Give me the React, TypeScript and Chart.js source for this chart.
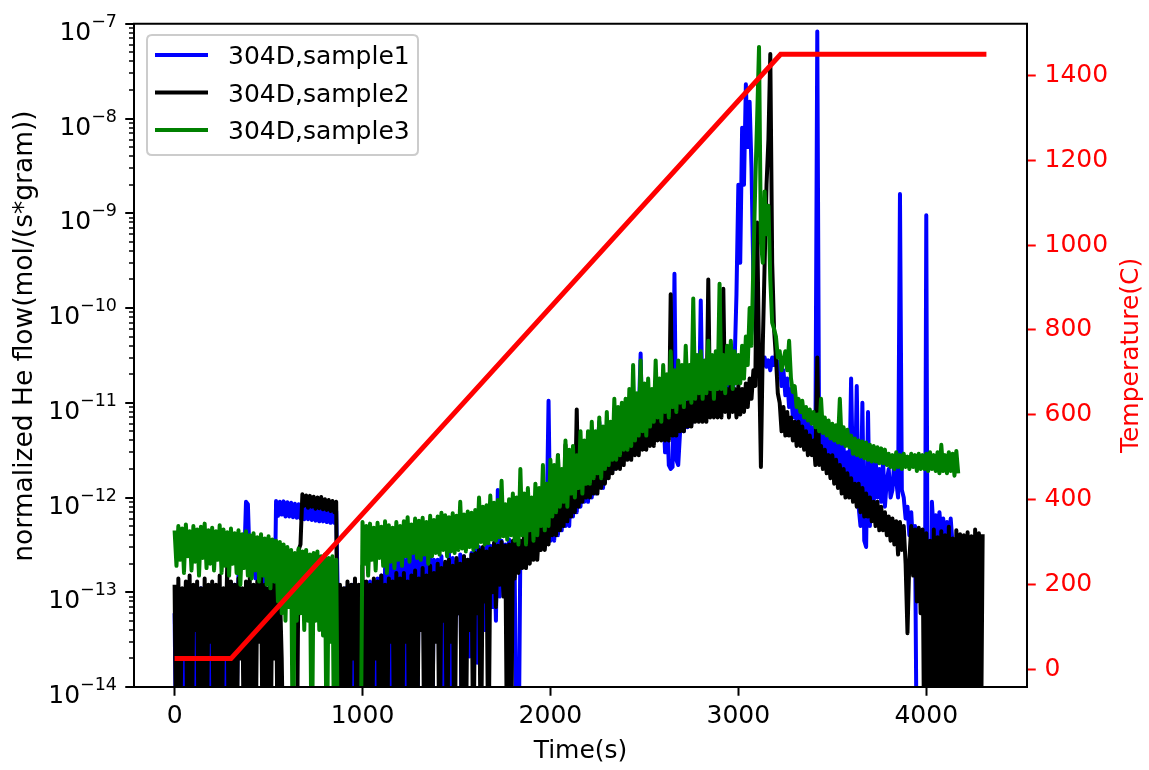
import React, { useEffect, useRef } from 'react';
import { Chart, registerables } from 'chart.js';

Chart.register(...registerables);

const FONT = '"DejaVu Sans", sans-serif';

// Time axis (s), one sample every 10 s
const timeSec = [
  0, 10, 20, 30, 40, 50, 60, 70, 80, 90, 100, 110, 120, 130, 140, 150, 160, 170, 180, 190,
  200, 210, 220, 230, 240, 250, 260, 270, 280, 290, 300, 310, 320, 330, 340, 350, 360, 370, 380, 390,
  400, 410, 420, 430, 440, 450, 460, 470, 480, 490, 500, 510, 520, 530, 540, 550, 560, 570, 580, 590,
  600, 610, 620, 630, 640, 650, 660, 670, 680, 690, 700, 710, 720, 730, 740, 750, 760, 770, 780, 790,
  800, 810, 820, 830, 840, 850, 860, 870, 880, 890, 900, 910, 920, 930, 940, 950, 960, 970, 980, 990,
  1000, 1010, 1020, 1030, 1040, 1050, 1060, 1070, 1080, 1090, 1100, 1110, 1120, 1130, 1140, 1150, 1160, 1170, 1180, 1190,
  1200, 1210, 1220, 1230, 1240, 1250, 1260, 1270, 1280, 1290, 1300, 1310, 1320, 1330, 1340, 1350, 1360, 1370, 1380, 1390,
  1400, 1410, 1420, 1430, 1440, 1450, 1460, 1470, 1480, 1490, 1500, 1510, 1520, 1530, 1540, 1550, 1560, 1570, 1580, 1590,
  1600, 1610, 1620, 1630, 1640, 1650, 1660, 1670, 1680, 1690, 1700, 1710, 1720, 1730, 1740, 1750, 1760, 1770, 1780, 1790,
  1800, 1810, 1820, 1830, 1840, 1850, 1860, 1870, 1880, 1890, 1900, 1910, 1920, 1930, 1940, 1950, 1960, 1970, 1980, 1990,
  2000, 2010, 2020, 2030, 2040, 2050, 2060, 2070, 2080, 2090, 2100, 2110, 2120, 2130, 2140, 2150, 2160, 2170, 2180, 2190,
  2200, 2210, 2220, 2230, 2240, 2250, 2260, 2270, 2280, 2290, 2300, 2310, 2320, 2330, 2340, 2350, 2360, 2370, 2380, 2390,
  2400, 2410, 2420, 2430, 2440, 2450, 2460, 2470, 2480, 2490, 2500, 2510, 2520, 2530, 2540, 2550, 2560, 2570, 2580, 2590,
  2600, 2610, 2620, 2630, 2640, 2650, 2660, 2670, 2680, 2690, 2700, 2710, 2720, 2730, 2740, 2750, 2760, 2770, 2780, 2790,
  2800, 2810, 2820, 2830, 2840, 2850, 2860, 2870, 2880, 2890, 2900, 2910, 2920, 2930, 2940, 2950, 2960, 2970, 2980, 2990,
  3000, 3010, 3020, 3030, 3040, 3050, 3060, 3070, 3080, 3090, 3100, 3110, 3120, 3130, 3140, 3150, 3160, 3170, 3180, 3190,
  3200, 3210, 3220, 3230, 3240, 3250, 3260, 3270, 3280, 3290, 3300, 3310, 3320, 3330, 3340, 3350, 3360, 3370, 3380, 3390,
  3400, 3410, 3420, 3430, 3440, 3450, 3460, 3470, 3480, 3490, 3500, 3510, 3520, 3530, 3540, 3550, 3560, 3570, 3580, 3590,
  3600, 3610, 3620, 3630, 3640, 3650, 3660, 3670, 3680, 3690, 3700, 3710, 3720, 3730, 3740, 3750, 3760, 3770, 3780, 3790,
  3800, 3810, 3820, 3830, 3840, 3850, 3860, 3870, 3880, 3890, 3900, 3910, 3920, 3930, 3940, 3950, 3960, 3970, 3980, 3990,
  4000, 4010, 4020, 4030, 4040, 4050, 4060, 4070, 4080, 4090, 4100, 4110, 4120, 4130, 4140, 4150, 4160, 4170, 4180, 4190,
  4200, 4210, 4220, 4230, 4240, 4250, 4260, 4270, 4280, 4290, 4300, 4310, 4320,
];

// normalized He flow, mol/(s*gram)
const sample1Flow = [
  6e-14, 1e-15, 9e-14, 2e-15, 8e-14, 1e-15, 1e-13, 3e-15, 7e-14, 1e-15, 9e-14, 2e-15, 8e-14, 1e-15, 1.1e-13, 3e-15, 9e-14, 1e-15, 8e-14, 2e-15,
  9e-14, 2e-15, 1.1e-13, 1e-15, 8e-14, 3e-15, 1e-13, 1e-15, 9e-14, 2e-15, 1e-13, 1e-15, 1.2e-13, 4e-15, 1.5e-13, 2e-13, 1.8e-13, 2e-13, 9e-13, 8.5e-13,
  2e-13, 1.6e-13, 2.2e-13, 1.4e-13, 2e-13, 1.5e-13, 1.9e-13, 1.2e-13, 1.7e-13, 1.3e-13, 1.5e-13, 1e-13, 1.4e-13, 3e-14, 9.2e-13, 6.4e-13, 9e-13, 6.6e-13, 9.1e-13, 6.3e-13,
  8.9e-13, 6.3e-13, 8.8e-13, 6.2e-13, 8.6e-13, 6.1e-13, 8.5e-13, 6e-13, 8.3e-13, 5.9e-13, 8.2e-13, 5.9e-13, 8e-13, 5.8e-13, 7.9e-13, 5.7e-13, 7.8e-13, 5.6e-13, 7.6e-13, 5.6e-13,
  7.5e-13, 5.5e-13, 7.4e-13, 5.4e-13, 7.3e-13, 5.4e-13, 7.2e-13, 6e-14, 1e-15, 8e-14, 1e-15, 1.1e-13, 2e-15, 9e-14, 1e-15, 1.2e-13, 3e-15, 1e-13, 1e-15, 1.1e-13,
  1.1e-13, 3e-15, 1e-13, 1e-15, 1.3e-13, 2e-14, 1.2e-13, 1e-15, 1.4e-13, 4e-14, 1.5e-13, 1e-15, 1.8e-13, 5e-14, 2.4e-13, 1e-15, 2.7e-13, 6e-14, 2.3e-13, 5e-14,
  2.8e-13, 6e-14, 2.2e-13, 1e-15, 2.6e-13, 7e-14, 3e-13, 4e-14, 2.5e-13, 1e-15, 2.9e-13, 5e-14, 2.4e-13, 8e-14, 2.7e-13, 3e-14, 2.5e-13, 1e-15, 2.2e-13, 6e-14,
  2.2e-13, 5e-14, 2.4e-13, 2e-15, 2e-13, 3e-14, 2.6e-13, 1e-15, 2.3e-13, 4e-14, 2.1e-13, 6e-14, 2.5e-13, 1e-15, 2.4e-13, 3e-14, 2.2e-13, 2.1e-14, 2.6e-13, 2e-14,
  2.8e-13, 1.8e-14, 3e-13, 6e-14, 2.7e-13, 4e-14, 3.4e-13, 2.5e-14, 3.1e-13, 7e-14, 3.3e-13, 5e-14, 1.2e-12, 9e-14, 3.5e-13, 1.2e-13, 3.2e-13, 2e-13, 3.6e-13, 1.8e-13,
  2.5e-13, 1.5e-13, 1e-15, 1e-15, 3e-13, 2e-13, 3.4e-13, 2.2e-13, 3.8e-13, 2.5e-13, 4.2e-13, 2.6e-13, 4.5e-13, 2.8e-13, 4.8e-13, 3e-13, 5e-13, 3e-13, 5.3e-13, 1.05e-11,
  3.5e-13, 1e-12, 3.5e-13, 1.1e-12, 4e-13, 1.1e-12, 4.5e-13, 1.26e-12, 5e-13, 1.4e-12, 5e-13, 1.6e-12, 6.3e-13, 1.6e-12, 7e-13, 1.8e-12, 8e-13, 2e-12, 9e-13, 2.2e-12,
  9e-13, 2.5e-12, 1e-12, 2.8e-12, 1.1e-12, 3.2e-12, 6.3e-12, 3.2e-12, 1.26e-12, 3.5e-12, 1.6e-12, 4e-12, 1.8e-12, 4.5e-12, 2e-12, 5e-12, 2.2e-12, 5.6e-12, 2.5e-12, 6.3e-12,
  2.8e-12, 7e-12, 3e-12, 7.5e-12, 3.2e-12, 8e-12, 3.3e-12, 7.5e-12, 3.3e-11, 3.5e-12, 8e-12, 3.7e-12, 8.5e-12, 3.9e-12, 9e-12, 4.1e-12, 8.5e-12, 4.3e-12, 9.5e-12, 4.5e-12,
  9e-12, 3e-12, 8e-12, 2.2e-12, 2e-12, 2.1e-12, 2.3e-10, 2.5e-12, 2.2e-12, 5e-12, 1.1e-11, 5e-12, 1.2e-11, 5.5e-12, 1.3e-11, 6e-12, 1.4e-11, 6.5e-12, 1.5e-11, 7e-12,
  1.2e-10, 7e-12, 1.6e-11, 7.5e-12, 1.8e-11, 8e-12, 1.7e-11, 8e-12, 2e-11, 8.5e-12, 1.8e-11, 9e-12, 2.2e-11, 9e-12, 2.4e-11, 1e-11, 2.2e-11, 1.1e-11, 2.6e-11, 1.4e-10,
  2e-9, 3e-10, 8e-9, 2e-9, 2.3e-8, 5e-9, 1.5e-8, 3e-9, 2e-10, 6e-11, 4e-11, 3e-11, 2e-11, 2.5e-11, 3e-11, 2.4e-11, 2.8e-11, 2.2e-11, 3e-11, 2.5e-11,
  3.3e-11, 2e-11, 2.7e-11, 1.5e-11, 2.2e-11, 1.2e-11, 1.8e-11, 9e-12, 1.4e-11, 7e-12, 1.2e-11, 6e-12, 9e-12, 5e-12, 8e-12, 4.5e-12, 7e-12, 4e-12, 6.5e-12, 3.8e-12,
  5.5e-12, 3.5e-12, 8.3e-8, 3e-12, 5e-12, 2.8e-12, 5.5e-12, 2.5e-12, 6e-12, 2.2e-12, 5e-12, 2e-12, 4e-12, 1.7e-12, 5.5e-12, 1.5e-12, 3.5e-12, 1.3e-12, 3e-12, 1.2e-12,
  1.8e-11, 1.5e-12, 1.1e-12, 1.5e-11, 8e-13, 5e-13, 1e-11, 3.5e-13, 3e-13, 8e-12, 5e-13, 2.5e-12, 8e-13, 3e-12, 1e-12, 2e-12, 9e-13, 2.5e-12, 8e-13, 1.5e-12,
  2e-12, 1e-12, 1.2e-12, 2.5e-12, 1.5e-12, 1e-12, 1.6e-9, 1.2e-12, 1e-12, 6e-13, 8e-13, 4e-13, 7e-13, 3e-13, 5e-13, 1e-15, 1e-15, 2e-15, 1e-15, 1e-15,
  9.5e-10, 1e-15, 1e-15, 9e-13, 4e-13, 6.5e-13, 3.5e-13, 7e-13, 4e-13, 6e-13, 3.5e-13, 5.5e-13, 3e-13, 6e-13, 3.2e-13, null, null, null, null, null,
  null, null, null, null, null, null, null, null, null, null, null, null, null,
];

const sample2Flow = [
  1.2e-13, 1e-15, 1.4e-13, 3e-15, 1.1e-13, 2e-14, 1.3e-13, 1e-15, 1.5e-13, 1e-15, 1.2e-13, 4e-14, 1.3e-13, 1e-15, 1.1e-13, 2e-15, 1.4e-13, 1e-15, 1.2e-13, 3e-14,
  1.3e-13, 1e-15, 1.2e-13, 5e-15, 1.5e-13, 1e-15, 1.1e-13, 2e-14, 1.9e-13, 1e-15, 1.3e-13, 3e-15, 1.2e-13, 1e-15, 1.4e-13, 2e-14, 1.1e-13, 1e-15, 1.3e-13, 1e-15,
  1.4e-13, 2e-15, 1.2e-13, 1e-15, 1.3e-13, 3e-14, 1.5e-13, 1e-15, 1.2e-13, 4e-15, 1.1e-13, 1e-15, 1.3e-13, 2e-14, 1.2e-13, 1e-15, 1.1e-13, 2e-14, 1e-15, 1e-15,
  1e-15, 1e-15, 1e-15, 1e-15, 1e-15, 1e-15, 2.8e-13, 3.2e-13, 1.08e-12, 8.2e-13, 1.05e-12, 7.8e-13, 1.04e-12, 8e-13, 1.02e-12, 7.6e-13, 1e-12, 7.7e-13, 1.01e-12, 7.5e-13,
  9.6e-13, 7.4e-13, 9.4e-13, 7.2e-13, 9.2e-13, 7e-13, 9e-13, 1e-15, 1.2e-13, 1e-15, 1.1e-13, 3e-15, 1.3e-13, 1e-15, 1.2e-13, 2e-14, 1.4e-13, 1e-15, 1.2e-13, 1e-15,
  1.9e-13, 1e-15, 1.3e-13, 3e-15, 1.2e-13, 1e-15, 1.4e-13, 2e-14, 1.3e-13, 1e-15, 1.5e-13, 4e-15, 1.2e-13, 1e-15, 1.4e-13, 3e-14, 1.3e-13, 1e-15, 1.6e-13, 2e-15,
  1.4e-13, 1e-15, 1.6e-13, 3e-14, 1.3e-13, 1e-15, 1.5e-13, 2e-15, 1.7e-13, 1e-15, 1.4e-13, 4e-14, 1.8e-13, 1e-15, 1.5e-13, 3e-15, 1.9e-13, 1e-15, 1.6e-13, 3e-14,
  2e-13, 1e-15, 1.8e-13, 5e-14, 2.1e-13, 1e-15, 2.2e-13, 3e-14, 1.9e-13, 1e-15, 2.3e-13, 6e-14, 2e-13, 1e-15, 2.4e-13, 2e-15, 2.2e-13, 4e-14, 2.5e-13, 1e-15,
  2.6e-13, 6e-14, 2.8e-13, 1e-15, 3e-13, 8e-14, 2.7e-13, 1e-15, 2.9e-13, 1e-13, 3.3e-13, 7e-14, 3.1e-13, 1.2e-13, 3.4e-13, 9e-14, 3.1e-13, 1e-15, 3.2e-13, 1e-15,
  3.5e-13, 1.4e-13, 4e-13, 1.6e-13, 3.5e-13, 1.8e-13, 4.5e-13, 1.8e-13, 5e-13, 2e-13, 4.5e-13, 2.2e-13, 5.6e-13, 2.2e-13, 5e-13, 2.8e-13, 7e-13, 2.8e-13, 6.3e-13, 3.2e-13,
  8e-13, 4e-13, 9e-13, 4e-13, 2.8e-12, 4.5e-13, 1e-12, 5e-13, 3.6e-12, 5.6e-13, 1.1e-12, 6.3e-13, 1.4e-12, 7e-13, 8.5e-12, 8e-13, 1.6e-12, 9e-13, 1.8e-12, 1e-12,
  2e-12, 1e-12, 2.2e-12, 1.1e-12, 2.5e-12, 1.1e-12, 2.8e-12, 1.26e-12, 2.8e-12, 1.4e-12, 3.5e-12, 1.6e-12, 4e-12, 1.8e-12, 4.5e-12, 2e-12, 5e-12, 2e-12, 5.6e-12, 2.2e-12,
  5.6e-12, 2.5e-12, 6.3e-12, 2.5e-12, 6.3e-12, 2.8e-12, 7e-12, 2.8e-12, 8e-12, 3.2e-12, 7e-12, 3.2e-12, 9e-12, 3.5e-12, 8e-12, 3.5e-12, 9e-12, 4e-12, 8e-12, 4e-12,
  9e-12, 4e-12, 8e-12, 4e-12, 1.4e-10, 4.5e-12, 9e-12, 4.5e-12, 1e-11, 5e-12, 1.1e-11, 5e-12, 1e-11, 5.6e-12, 1.26e-11, 5.6e-12, 1.1e-11, 6.3e-12, 1.26e-11, 6.3e-12,
  1.4e-11, 6.3e-12, 1.26e-11, 6.3e-12, 2e-10, 7e-12, 1.4e-11, 7e-12, 1.6e-11, 7e-12, 1.4e-11, 7e-12, 1.6e-10, 8e-12, 1.4e-11, 7e-12, 1.6e-11, 8e-12, 1.4e-11, 7e-12,
  1.5e-11, 7.5e-12, 1.4e-11, 8e-12, 1.6e-11, 9e-12, 1.8e-11, 1.1e-11, 2.2e-11, 1.5e-11, 8e-10, 3e-11, 2.1e-12, 4e-11, 3e-10, 2e-9, 6e-9, 4.8e-8, 3e-10, 6e-11,
  3e-11, 1.26e-11, 1e-11, 5e-12, 9e-12, 4.5e-12, 8e-12, 4.5e-12, 7e-12, 4e-12, 6.3e-12, 3.5e-12, 6.3e-12, 3.5e-12, 5.6e-12, 3.2e-12, 5e-12, 2.8e-12, 4.5e-12, 2.8e-12,
  4e-12, 2.2e-12, 3e-11, 2.2e-12, 3.5e-12, 2e-12, 3.2e-12, 1.8e-12, 2.8e-12, 1.6e-12, 2.8e-12, 1.4e-12, 2.5e-12, 1.26e-12, 2.2e-12, 1.1e-12, 2e-12, 1e-12, 1.8e-12, 1e-12,
  1.6e-12, 9e-13, 1.4e-12, 8e-13, 1.4e-12, 7e-13, 1.26e-12, 6.3e-13, 1.1e-12, 6.3e-13, 1e-12, 5.6e-13, 9e-13, 5e-13, 9e-13, 4.5e-13, 8e-13, 4.5e-13, 7e-13, 4e-13,
  6.3e-13, 3.5e-13, 6e-13, 3.2e-13, 5.6e-13, 2.5e-13, 5.5e-13, 2.8e-13, 5e-13, 2e-13, 3.7e-14, 2.2e-13, 5e-13, 1.5e-13, 4.6e-13, 8e-14, 4.8e-13, 6e-14, 4.6e-13, 1e-15,
  4.2e-13, 1e-15, 3.5e-13, 2e-15, 4.6e-13, 1e-15, 3.8e-13, 5e-15, 4.4e-13, 1e-15, 4e-13, 3e-15, 4.9e-13, 1e-15, 3.7e-13, 2e-15, 4.5e-13, 1e-15, 4.1e-13, 4e-15,
  4e-13, 1e-15, 4.3e-13, 2e-15, 3.9e-13, 1e-15, 4.6e-13, 3e-15, 4.2e-13, 1e-15, 4.1e-13, null, null,
];

const sample3Flow = [
  4.5e-13, 1.9e-13, 5e-13, 2.2e-13, 4.7e-13, 1.6e-13, 5.2e-13, 2.4e-13, 4.4e-13, 1.7e-13, 5e-13, 2.1e-13, 4.6e-13, 1.5e-13, 4.9e-13, 2.3e-13, 5.3e-13, 1.8e-13, 4.5e-13, 2e-13,
  4.8e-13, 1.7e-13, 4.4e-13, 2.2e-13, 5.1e-13, 1.6e-13, 4.6e-13, 1.9e-13, 4.3e-13, 1.5e-13, 4.7e-13, 2e-13, 4.2e-13, 1.6e-13, 4.5e-13, 1.2e-13, 4.1e-13, 1.8e-13, 4.4e-13, 1.5e-13,
  4e-13, 1.4e-13, 4.2e-13, 1.7e-13, 3.8e-13, 1.3e-13, 4.1e-13, 1.5e-13, 3.7e-13, 1.2e-13, 3.9e-13, 1.1e-13, 3.6e-13, 1.3e-13, 3.5e-13, 8e-14, 3.4e-13, 6e-14, 3.2e-13, 5e-14,
  3e-13, 7e-14, 2.8e-13, 1e-15, 2.6e-13, 5e-14, 2.9e-13, 6e-14, 2.7e-13, 4e-14, 2.8e-13, 5e-14, 2.5e-13, 1e-15, 2.6e-13, 5e-14, 2.7e-13, 4e-14, 2.4e-13, 3.5e-14,
  2.5e-13, 1e-15, 2.3e-13, 3e-14, 2.4e-13, 1e-15, 2.2e-13, 1e-15, 1e-15, 1e-15, 1e-15, 1e-15, 1e-15, 1e-15, 1e-15, 1e-15, 1e-15, 1e-15, 1e-15, 1e-15,
  5.5e-13, 2e-13, 5e-13, 1.5e-13, 5.3e-13, 2.2e-13, 4.8e-13, 1.7e-13, 5.4e-13, 2.3e-13, 4.9e-13, 1.9e-13, 5.6e-13, 1.6e-13, 5.1e-13, 2.1e-13, 4.8e-13, 1.8e-13, 5.5e-13, 2.2e-13,
  5e-13, 1.9e-13, 5.6e-13, 2.4e-13, 6.2e-13, 2.1e-13, 5.2e-13, 2.6e-13, 6e-13, 2.3e-13, 5.7e-13, 2.2e-13, 6.1e-13, 2.5e-13, 5.5e-13, 2e-13, 6.4e-13, 2.4e-13, 5.8e-13, 2.6e-13,
  6.3e-13, 2.5e-13, 6.9e-13, 2.8e-13, 6.5e-13, 2.4e-13, 6.2e-13, 2.7e-13, 6.8e-13, 2.6e-13, 6.4e-13, 2.8e-13, 9e-13, 2.9e-13, 6.6e-13, 2.7e-13, 7.1e-13, 3e-13, 6.9e-13, 2.8e-13,
  7.4e-13, 3e-13, 1e-12, 3.4e-13, 8e-13, 3.2e-13, 8.3e-13, 3.3e-13, 1.05e-12, 3.6e-13, 8.8e-13, 3.5e-13, 9.4e-13, 3.8e-13, 1.5e-12, 3.9e-13, 8.5e-13, 3.6e-13, 9.6e-13, 4e-13,
  1.1e-12, 3.5e-13, 1e-12, 3.2e-13, 2e-12, 4e-13, 1.1e-12, 3.2e-13, 1.26e-12, 4.5e-13, 1e-12, 3.5e-13, 1.4e-12, 4e-13, 1.26e-12, 5e-13, 2.2e-12, 4.5e-13, 1.4e-12, 5e-13,
  2.5e-12, 6.3e-13, 2.2e-12, 7e-13, 2.8e-12, 8e-13, 2e-12, 9e-13, 4e-12, 8e-13, 3.2e-12, 1.1e-12, 3.5e-12, 1e-12, 2.8e-12, 1.26e-12, 5e-12, 1.1e-12, 4e-12, 1.4e-12,
  5e-12, 1.4e-12, 6.3e-12, 1.6e-12, 5e-12, 1.8e-12, 7e-12, 1.6e-12, 5.6e-12, 2e-12, 8e-12, 2.2e-12, 6.3e-12, 2.5e-12, 1.1e-11, 2.5e-12, 9e-12, 2.8e-12, 1e-11, 3.2e-12,
  1.1e-11, 3.2e-12, 1.4e-11, 3.5e-12, 2.5e-11, 4e-12, 1.26e-11, 4.5e-12, 2.8e-11, 5e-12, 1.6e-11, 4.5e-12, 1.8e-11, 5.6e-12, 1.4e-11, 6.3e-12, 2.8e-11, 7e-12, 1.8e-11, 6.3e-12,
  2.5e-11, 8e-12, 2e-11, 7e-12, 3.5e-11, 9e-12, 2.2e-11, 8e-12, 2.8e-11, 1e-11, 2.5e-11, 9e-12, 4e-11, 1.1e-11, 2.5e-11, 1e-11, 1.26e-10, 1.1e-11, 3.2e-11, 1.26e-11,
  3.5e-11, 1.1e-11, 2.8e-11, 1.26e-11, 4.5e-11, 1.4e-11, 3.2e-11, 1.1e-11, 3.5e-11, 1.4e-11, 1.8e-10, 1.4e-11, 3.2e-11, 1.26e-11, 4e-11, 1.6e-11, 4.5e-11, 1.4e-11, 3.5e-11, 1.6e-11,
  3.2e-11, 1.6e-11, 4e-11, 1.8e-11, 5e-11, 2.5e-11, 1e-10, 4e-11, 3e-10, 2e-9, 1e-8, 5.7e-8, 5e-10, 3e-10, 1.7e-9, 6e-10, 1.2e-9, 2e-10, 7e-11, 6e-11,
  5e-11, 3e-11, 3.5e-11, 2.2e-11, 2.8e-11, 3.5e-11, 2.2e-11, 4.5e-11, 1.8e-11, 1.3e-11, 1.5e-11, 9e-12, 1.1e-11, 8e-12, 1.05e-11, 7e-12, 9e-12, 6.5e-12, 8.5e-12, 6e-12,
  8e-12, 5.5e-12, 7.5e-12, 5e-12, 1.1e-11, 4.8e-12, 7e-12, 4.5e-12, 6.5e-12, 4.2e-12, 6e-12, 4e-12, 5.8e-12, 3.8e-12, 1.1e-11, 3.7e-12, 5.5e-12, 3.5e-12, 5.2e-12, 3.4e-12,
  4.5e-12, 2.9e-12, 4.2e-12, 2.8e-12, 4e-12, 2.7e-12, 3.9e-12, 2.6e-12, 3.8e-12, 2.5e-12, 3.6e-12, 2.4e-12, 3.5e-12, 2.4e-12, 3.4e-12, 2.3e-12, 3.3e-12, 2.3e-12, 3.2e-12, 2.2e-12,
  2.9e-12, 2.1e-12, 2.8e-12, 2e-12, 3e-12, 2.1e-12, 2.8e-12, 2e-12, 2.9e-12, 2.1e-12, 2.7e-12, 2e-12, 2.9e-12, 2.1e-12, 2.8e-12, 1.9e-12, 2.9e-12, 2e-12, 2.8e-12, 2e-12,
  2.9e-12, 1.9e-12, 3e-12, 2e-12, 2.8e-12, 1.9e-12, 3e-12, 1.8e-12, 3.6e-12, 1.9e-12, 2.8e-12, 1.8e-12, 3e-12, 1.9e-12, 2.9e-12, 1.7e-12, 3.1e-12, 1.8e-12, null, null,
  null, null, null, null, null, null, null, null, null, null, null, null, null,
];

// Temperature program
const tempTimeSec = [0, 300, 3225, 4320];
const tempC = [25, 25, 1450, 1450];

// Axis ticks / labels
const timeTicks = [0, 1000, 2000, 3000, 4000];
const flowTickValues = [1e-14, 1e-13, 1e-12, 1e-11, 1e-10, 1e-9, 1e-8, 1e-7];
const flowTickExponents = ['\u221214', '\u221213', '\u221212', '\u221211', '\u221210', '\u22129', '\u22128', '\u22127'];
const tempTicks = [0, 200, 400, 600, 800, 1000, 1200, 1400];

const seriesNames = ['304D,sample1', '304D,sample2', '304D,sample3'];
const seriesColors = ['#0000ff', '#000000', '#008000'];
const tempColor = '#ff0000';
const xTitle = 'Time(s)';
const yTitle = 'normalized He flow(mol/(s*gram))';
const y2Title = 'Temperature(C)';

const decorPlugin = {
  id: 'mplDecor',
  afterDraw(chart: any) {
    const { ctx, chartArea: a, scales } = chart;
    const ys = scales.y;
    ctx.save();

    // left major ticks + labels
    ctx.strokeStyle = '#000';
    ctx.fillStyle = '#000';
    ctx.lineWidth = 2;
    flowTickValues.forEach((v, i) => {
      const py = Math.round(ys.getPixelForValue(v));
      ctx.beginPath();
      ctx.moveTo(a.left, py);
      ctx.lineTo(a.left - 8.75, py);
      ctx.stroke();
      ctx.font = `25px ${FONT}`;
      const w10 = ctx.measureText('10').width;
      ctx.font = `17.5px ${FONT}`;
      const wSup = ctx.measureText(flowTickExponents[i]).width;
      const right = a.left - 17;
      const x0 = right - w10 - wSup;
      ctx.textAlign = 'left';
      ctx.textBaseline = 'alphabetic';
      ctx.font = `25px ${FONT}`;
      ctx.fillText('10', x0, py + 16);
      ctx.font = `17.5px ${FONT}`;
      ctx.fillText(flowTickExponents[i], x0 + w10, py + 3);
    });
    // left minor ticks
    ctx.lineWidth = 1.5;
    for (let i = 0; i < flowTickValues.length - 1; i++) {
      for (let m = 2; m <= 9; m++) {
        const py = Math.round(ys.getPixelForValue(flowTickValues[i] * m));
        ctx.beginPath();
        ctx.moveTo(a.left, py);
        ctx.lineTo(a.left - 5, py);
        ctx.stroke();
      }
    }

    // axis titles
    ctx.font = `25px ${FONT}`;
    ctx.textAlign = 'center';
    ctx.textBaseline = 'alphabetic';
    ctx.fillStyle = '#000';
    ctx.fillText(xTitle, (a.left + a.right) / 2, 758);

    ctx.save();
    ctx.font = `26.5px ${FONT}`;
    ctx.translate(32, 336);
    ctx.rotate(-Math.PI / 2);
    ctx.fillText(yTitle, 0, 0);
    ctx.restore();

    ctx.save();
    ctx.fillStyle = tempColor;
    ctx.translate(1138, (a.top + a.bottom) / 2);
    ctx.rotate(-Math.PI / 2);
    ctx.fillText(y2Title, 0, 0);
    ctx.restore();

    // legend
    const lx = 147, ly = 35, lw = 271, lh = 120, r = 5;
    ctx.beginPath();
    ctx.moveTo(lx + r, ly);
    ctx.lineTo(lx + lw - r, ly);
    ctx.quadraticCurveTo(lx + lw, ly, lx + lw, ly + r);
    ctx.lineTo(lx + lw, ly + lh - r);
    ctx.quadraticCurveTo(lx + lw, ly + lh, lx + lw - r, ly + lh);
    ctx.lineTo(lx + r, ly + lh);
    ctx.quadraticCurveTo(lx, ly + lh, lx, ly + lh - r);
    ctx.lineTo(lx, ly + r);
    ctx.quadraticCurveTo(lx, ly, lx + r, ly);
    ctx.closePath();
    ctx.fillStyle = 'rgba(255,255,255,0.8)';
    ctx.fill();
    ctx.strokeStyle = '#cccccc';
    ctx.lineWidth = 2;
    ctx.stroke();
    const rows = [55, 92.5, 130];
    seriesNames.forEach((name, i) => {
      ctx.strokeStyle = seriesColors[i];
      ctx.lineWidth = 4;
      ctx.beginPath();
      ctx.moveTo(155, rows[i]);
      ctx.lineTo(208, rows[i]);
      ctx.stroke();
      ctx.fillStyle = '#000';
      ctx.textAlign = 'left';
      ctx.font = `25px ${FONT}`;
      ctx.fillText(name, 228, rows[i] + 9);
    });

    // frame
    ctx.strokeStyle = '#000';
    ctx.lineWidth = 2;
    ctx.strokeRect(a.left, a.top, a.right - a.left, a.bottom - a.top);
    ctx.restore();
  },
};

export default function App() {
  const ref = useRef<HTMLCanvasElement>(null);
  useEffect(() => {
    const canvas = ref.current;
    if (!canvas) return;
    const toPoints = (vals: (number | null)[]) =>
      timeSec.map((t, i) => ({ x: t, y: vals[i] === undefined ? null : vals[i] }));
    const flowSets = [sample1Flow, sample2Flow, sample3Flow];
    const lineDefaults = {
      borderWidth: 4,
      pointRadius: 0,
      tension: 0,
      borderJoinStyle: 'round',
      borderCapStyle: 'butt',
      spanGaps: false,
      clip: 0,
      yAxisID: 'y',
    };
    const chart = new Chart(canvas, {
      type: 'line',
      data: {
        datasets: [
          {
            label: 'Temperature',
            data: tempTimeSec.map((t, i) => ({ x: t, y: tempC[i] })),
            borderColor: tempColor,
            borderWidth: 5,
            pointRadius: 0,
            tension: 0,
            clip: 0,
            yAxisID: 'y2',
            order: 0,
          },
          { ...lineDefaults, label: seriesNames[2], data: toPoints(flowSets[2]), borderColor: seriesColors[2], order: 1 },
          { ...lineDefaults, label: seriesNames[1], data: toPoints(flowSets[1]), borderColor: seriesColors[1], order: 2 },
          { ...lineDefaults, label: seriesNames[0], data: toPoints(flowSets[0]), borderColor: seriesColors[0], order: 3 },
        ] as any,
      },
      options: {
        responsive: false,
        animation: false,
        devicePixelRatio: 1,
        layout: { padding: { top: 22, left: 0, right: 0, bottom: 0 } },
        plugins: { legend: { display: false }, tooltip: { enabled: false }, title: { display: false } },
        events: [],
        scales: {
          x: {
            type: 'linear',
            min: -216,
            max: 4536,
            afterBuildTicks: (s: any) => { s.ticks = timeTicks.map((v) => ({ value: v })); },
            afterFit: (s: any) => { s.height = 83; },
            ticks: {
              color: '#000',
              font: { family: FONT, size: 25 },
              padding: 6,
              maxRotation: 0,
              autoSkip: false,
              callback: (v: any) => String(v),
            },
            grid: { drawOnChartArea: false, drawTicks: true, tickLength: 8.75, tickWidth: 2, tickColor: '#000' },
            border: { display: false },
          },
          y: {
            type: 'logarithmic',
            position: 'left',
            min: 1e-14,
            max: 1e-7,
            afterBuildTicks: (s: any) => { s.ticks = flowTickValues.map((v) => ({ value: v })); },
            afterFit: (s: any) => { s.width = 134; },
            ticks: { display: false },
            grid: { display: false },
            border: { display: false },
          },
          y2: {
            type: 'linear',
            position: 'right',
            min: -42,
            max: 1522,
            afterBuildTicks: (s: any) => { s.ticks = tempTicks.map((v) => ({ value: v })); },
            afterFit: (s: any) => { s.width = 122; },
            ticks: {
              color: tempColor,
              font: { family: FONT, size: 25 },
              padding: 8.75,
              autoSkip: false,
              callback: (v: any) => String(v),
            },
            grid: { drawOnChartArea: false, drawTicks: true, tickLength: 8.75, tickWidth: 2, tickColor: tempColor },
            border: { display: false },
          },
        },
      } as any,
      plugins: [decorPlugin],
    });
    return () => chart.destroy();
  }, []);
  return (
    <div style={{ position: 'fixed', left: 0, top: 0, width: 1149, height: 770, background: '#ffffff' }}>
      <canvas ref={ref} width={1149} height={770} style={{ display: 'block', width: 1149, height: 770 }} />
    </div>
  );
}
